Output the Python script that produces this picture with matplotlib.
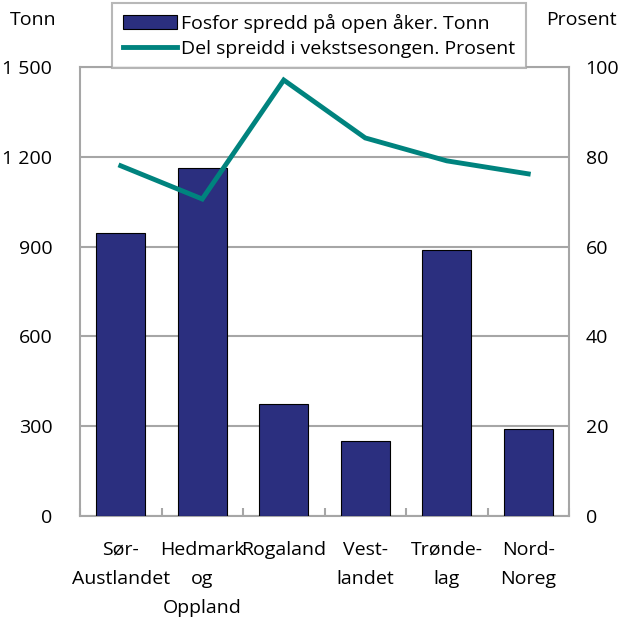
import matplotlib.pyplot as plt
import numpy as np

regions = ["Sør-\nAustlandet", "Hedmark\nog\nOppland", "Rogaland", "Vest-\nlandet", "Trønde-\nlag", "Nord-\nNoreg"]
tonn = [945, 1163, 374, 251, 889, 291]
prosent = [78.0, 70.6, 97.1, 84.2, 79.1, 76.2]
left_ticks = [0, 300, 600, 900, 1200, 1500]
left_labels = ["0", "300", "600", "900", "1 200", "1 500"]
right_ticks = [0, 20, 40, 60, 80, 100]

plt.rcParams['font.family'] = ['Open Sans', 'DejaVu Sans']
grey = "#a6a6a6"
fs = 14

fig = plt.figure(figsize=(6.22, 6.19), dpi=100)
ax = fig.add_axes([80 / 622, 1 - 516 / 619, (569 - 80) / 622, (516 - 67) / 619])
x = np.arange(len(regions))

ax.bar(x, tonn, width=0.6, color="#2b2f7f", edgecolor="black", linewidth=0.8, zorder=3,
       label="Fosfor spredd på open åker. Tonn")
ax.set_ylim(0, 1500)
ax.set_xlim(-0.5, len(regions) - 0.5)
ax.set_yticks(left_ticks)
ax.set_yticklabels(left_labels)
ax.yaxis.grid(True, color=grey, linewidth=1.5, zorder=0)
ax.set_axisbelow(True)
for s in ax.spines.values():
    s.set_color(grey)
    s.set_linewidth(1.5)
ax.tick_params(axis="y", length=0, pad=20, labelsize=fs)
ax.set_xticks(x)
ax.set_xticklabels(regions, fontsize=fs, linespacing=1.8)
ax.set_xticks(np.arange(len(regions) + 1) - 0.5, minor=True)
ax.tick_params(axis="x", which="major", length=0, pad=18)
ax.tick_params(axis="x", which="minor", direction="in", length=6, width=1.5, color=grey)

ax2 = ax.twinx()
ax2.plot(x, prosent, color="#00837e", linewidth=3.5, solid_joinstyle="miter", zorder=4,
         label="Del spreidd i vekstsesongen. Prosent")
ax2.set_ylim(0, 100)
ax2.set_yticks(right_ticks)
ax2.tick_params(axis="y", length=0, pad=12, labelsize=fs)
for s in ax2.spines.values():
    s.set_visible(False)

h1, l1 = ax.get_legend_handles_labels()
h2, l2 = ax2.get_legend_handles_labels()
leg = fig.legend(h1 + h2, l1 + l2, loc="upper left", bbox_to_anchor=(112 / 622, 1 - 3 / 619),
                 fontsize=fs, frameon=True, fancybox=False, edgecolor=grey,
                 handlelength=2.8, handletextpad=0.2, borderpad=0.55, labelspacing=0.35,
                 borderaxespad=0, handleheight=0.8)
leg.get_frame().set_linewidth(1.5)

fig.text(10 / 622, 1 - 20 / 619, "Tonn", fontsize=fs, va="center", ha="left")
fig.text(617 / 622, 1 - 20 / 619, "Prosent", fontsize=fs, va="center", ha="right")

fig.savefig("out.png", dpi=100)
